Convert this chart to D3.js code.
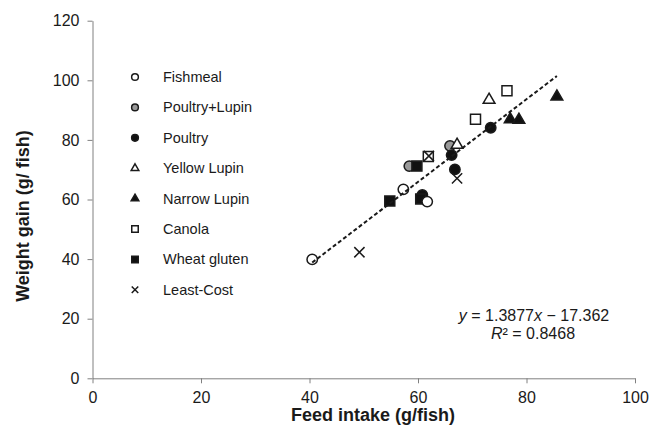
<!DOCTYPE html>
<meta charset="utf-8">
<style>
body { margin: 0; background: #fff; }
svg text { font-family: Arial, "Liberation Sans", sans-serif; fill: #1a1a1a; }
.axis path, .axis line { stroke: #808080; stroke-width: 1; }
.axis text { font-size: 16px; fill: #1a1a1a; }
.mark { stroke: #1a1a1a; stroke-width: 1.5; }
.trend { fill: none; stroke: #1a1a1a; stroke-width: 2; stroke-dasharray: 4,2.5; }
</style>
<svg class="chart" width="651" height="440"></svg>
<script src="https://cdn.jsdelivr.net/npm/d3@7"></script>
<script>

// diet groups, in legend order
var groups = ["Fishmeal", "Poultry+Lupin", "Poultry", "Yellow Lupin", "Narrow Lupin", "Canola", "Wheat gluten", "Least-Cost"];

// feed intake (g/fish) and weight gain (g/fish) per group
var fishmealX = [40.5, 57.3, 61.7],      fishmealY = [39.9, 63.4, 59.3];
var poultryLupinX = [58.4, 65.9],        poultryLupinY = [71.2, 78.0];
var poultryX = [60.8, 66.2, 66.8, 73.4], poultryY = [61.5, 74.9, 70.1, 84.1];
var yellowX = [67.2, 73.1],              yellowY = [78.3, 93.4];
var narrowX = [77.0, 78.6, 85.6],        narrowY = [86.9, 86.7, 94.5];
var canolaX = [61.9, 70.6, 76.4],        canolaY = [74.4, 86.9, 96.5];
var wheatX = [54.8, 60.5, 59.8],         wheatY = [59.5, 60.2, 71.2];
var leastCostX = [49.2, 62.0, 67.2],     leastCostY = [42.3, 74.6, 67.1];

var xTicks = [0, 20, 40, 60, 80, 100];
var yTicks = [0, 20, 40, 60, 80, 100, 120];

// linear trend shown on the chart
var slope = 1.3877, intercept = -17.362, rSquared = 0.8468;

var seriesX = [fishmealX, poultryLupinX, poultryX, yellowX, narrowX, canolaX, wheatX, leastCostX];
var seriesY = [fishmealY, poultryLupinY, poultryY, yellowY, narrowY, canolaY, wheatY, leastCostY];

var styles = {
  "Fishmeal":      {type: d3.symbolCircle,   size: 85,  fill: "#fff"},
  "Poultry+Lupin": {type: d3.symbolCircle,   size: 85,  fill: "#999"},
  "Poultry":       {type: d3.symbolCircle,   size: 85,  fill: "#111"},
  "Yellow Lupin":  {type: d3.symbolTriangle, size: 60,  fill: "#fff"},
  "Narrow Lupin":  {type: d3.symbolTriangle, size: 60,  fill: "#111"},
  "Canola":        {type: d3.symbolSquare,   size: 100, fill: "#fff"},
  "Wheat gluten":  {type: d3.symbolSquare,   size: 100, fill: "#111"},
  "Least-Cost":    {type: d3.symbolX,        size: 70,  fill: "none"}
};

var svg = d3.select(".chart");

var x = d3.scaleLinear().domain([0, 100]).range([92.5, 635]);
var y = d3.scaleLinear().domain([0, 120]).range([378.3, 20.7]);

svg.append("g")
    .attr("class", "axis")
    .attr("transform", "translate(0," + y(0) + ")")
    .call(d3.axisBottom(x).tickValues(xTicks).tickSize(5).tickSizeOuter(0).tickPadding(8))
    .call(function(g) { g.selectAll("text").attr("font-family", null); });

svg.append("g")
    .attr("class", "axis")
    .attr("transform", "translate(" + x(0) + ",0)")
    .call(d3.axisLeft(y).tickValues(yTicks).tickSize(5).tickSizeOuter(0).tickPadding(8))
    .call(function(g) { g.selectAll("text").attr("font-family", null); });

// points, drawn in an order that keeps the overlaps right
var drawOrder = [1, 2, 6, 0, 3, 4, 5, 7];
drawOrder.forEach(function(i) {
  var name = groups[i], st = styles[name];
  var pts = seriesX[i].map(function(v, j) { return [v, seriesY[i][j]]; });
  svg.append("g").selectAll("path")
    .data(pts)
    .enter().append("path")
      .attr("class", "mark")
      .attr("d", d3.symbol(st.type, st.size))
      .attr("fill", st.fill)
      .attr("stroke-width", name == "Least-Cost" ? 1.8 : 1.5)
      .attr("transform", function(d) { return "translate(" + x(d[0]) + "," + y(d[1]) + ")"; });
});

// trend line across the range of the data
var allX = d3.merge(seriesX);
var xr = d3.extent(allX);
svg.append("line")
    .attr("class", "trend")
    .attr("x1", x(xr[0])).attr("y1", y(slope * xr[0] + intercept))
    .attr("x2", x(xr[1])).attr("y2", y(slope * xr[1] + intercept));

// legend
var legend = svg.append("g").selectAll("g")
    .data(groups)
    .enter().append("g")
      .attr("transform", function(d, i) { return "translate(135," + (77 + i * 30.4) + ")"; });

legend.append("path")
    .attr("class", "mark")
    .attr("d", function(d) { return d3.symbol(styles[d].type, styles[d].size * 0.42)(); })
    .attr("fill", function(d) { return styles[d].fill; })
    .attr("stroke-width", 1.4);

legend.append("text")
    .attr("x", 28)
    .attr("dy", "0.35em")
    .style("font-size", "14.5px")
    .text(function(d) { return d; });

// equation
var eq = svg.append("text")
    .attr("x", 534)
    .attr("y", 320.5)
    .attr("text-anchor", "middle")
    .style("font-size", "16px");
eq.append("tspan").style("font-style", "italic").text("y");
eq.append("tspan").text(" = " + slope + "");
eq.append("tspan").style("font-style", "italic").text("x");
eq.append("tspan").text(" \u2212 " + Math.abs(intercept));

var r2 = svg.append("text")
    .attr("x", 533)
    .attr("y", 338.5)
    .attr("text-anchor", "middle")
    .style("font-size", "16px");
r2.append("tspan").style("font-style", "italic").text("R");
r2.append("tspan").text("\u00b2 = " + rSquared);

// axis titles
svg.append("text")
    .attr("x", 373)
    .attr("y", 421)
    .attr("text-anchor", "middle")
    .style("font-size", "18px")
    .style("font-weight", "bold")
    .text("Feed intake (g/fish)");

svg.append("text")
    .attr("transform", "translate(29,216) rotate(-90)")
    .attr("text-anchor", "middle")
    .style("font-size", "18px")
    .style("font-weight", "bold")
    .text("Weight gain (g/ fish)");

</script>
